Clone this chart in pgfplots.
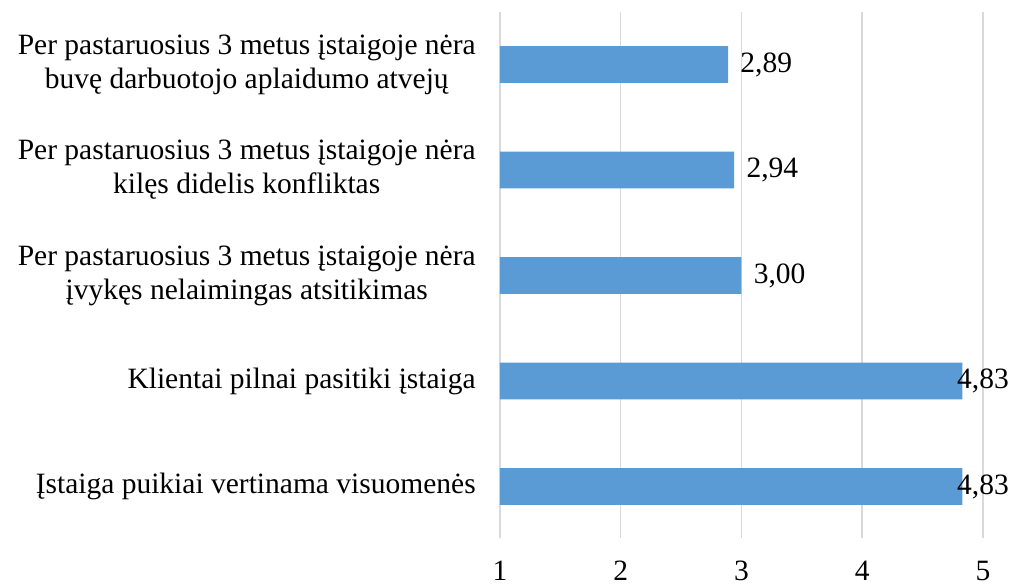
\documentclass[border=0pt]{standalone}
\usepackage{pgfplots}
\pgfplotsset{compat=1.18}
\usepackage{pgfplotstable}
\usepackage{fontspec}
\setmainfont{Liberation Serif}
\definecolor{barblue}{HTML}{5B9BD5}
\definecolor{gridgray}{HTML}{D9D9D9}
\pgfplotstableread{
y v s
0 4.83 -6.15
1 4.83 -6.15
2 3.00 2.6
3 2.94 2.6
4 2.89 2.6
}\data
\begin{document}
\begin{tikzpicture}
\useasboundingbox (0,0) rectangle (507pt,292.5pt);
\begin{axis}[
 at={(250pt,23.35pt)}, anchor=south west,
 scale only axis, width=241.5pt, height=263.3pt,
 xmin=0, xmax=4, ymin=-0.49, ymax=4.5,
 xtick={0,1,2,3,4}, xticklabels={1,2,3,4,5},
 ytick={0,1,2,3,4},
 yticklabels={
  {Įstaiga puikiai vertinama visuomenės},
  {Klientai pilnai pasitiki įstaiga},
  {Per pastaruosius 3 metus įstaigoje nėra\\įvykęs nelaimingas atsitikimas},
  {Per pastaruosius 3 metus įstaigoje nėra\\kilęs didelis konfliktas},
  {Per pastaruosius 3 metus įstaigoje nėra\\buvę darbuotojo aplaidumo atvejų}
 },
 xmajorgrids, major grid style={gridgray, line width=0.75pt},
 axis line style={draw=none},
 major tick length=0pt,
 xbar, bar width=18.35pt, bar shift=0pt,
 clip=false,
 every tick label/.append style={font=\fontsize{14.75}{17}\selectfont},
 yticklabel style={align=center, xshift=-8.6pt},
 xticklabel style={yshift=-7.95pt},
 /pgf/number format/assume math mode=true,
 nodes near coords, point meta=explicit,
 visualization depends on={\thisrow{s} \as \lshift},
 nodes near coords style={anchor=west, xshift=\lshift pt, font=\fontsize{14.75}{17}\selectfont, /pgf/number format/.cd, fixed, fixed zerofill, precision=2, use comma, assume math mode=true},
]
\addplot[fill=barblue, draw=none] table[x expr=\thisrow{v}-1, y=y, meta=v]{\data};
\end{axis}
\end{tikzpicture}
\end{document}
